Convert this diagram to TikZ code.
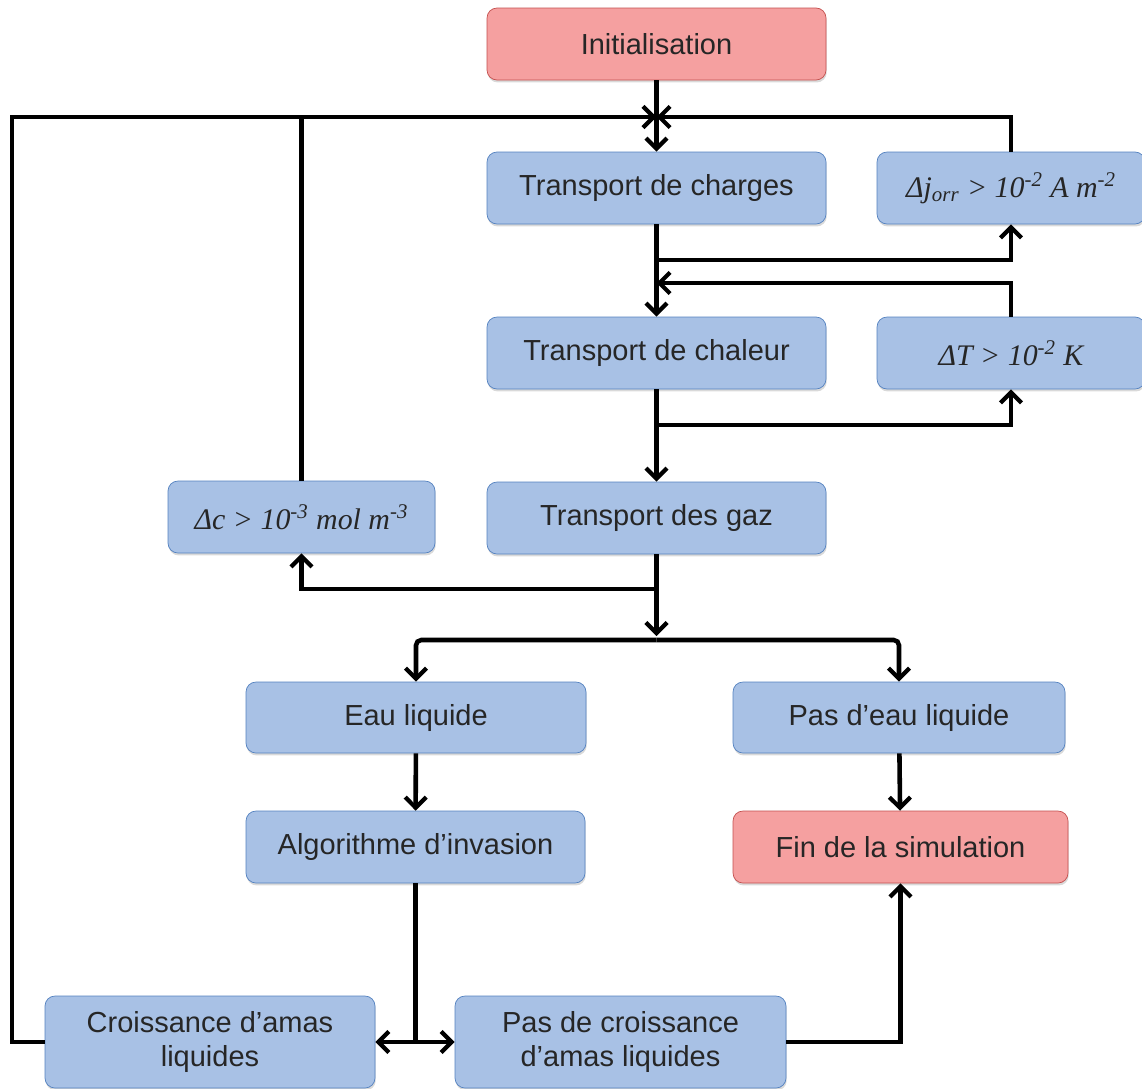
\documentclass[tikz,border=0pt]{standalone}
\usepackage{fontspec}
\setmainfont{Liberation Sans}
\newfontfamily\tmsfont{Liberation Serif}
\usetikzlibrary{arrows.meta,shadows}
\definecolor{boxblue}{RGB}{168,193,229}
\definecolor{edgeblue}{RGB}{84,130,192}
\definecolor{boxpink}{RGB}{245,160,160}
\definecolor{edgered}{RGB}{196,80,78}

\begin{document}
\begin{tikzpicture}[blk/.style={draw=edgeblue,fill=boxblue,rounded corners=0.2cm,minimum width=6.78cm,minimum height=1.44cm,align=center,font=\fontsize{16.5}{19.5}\selectfont,drop shadow={opacity=0.3,shadow xshift=0.4pt,shadow yshift=-1.4pt},text=black!85},endblk/.style={blk,draw=edgered,fill=boxpink},cond/.style={blk,font=\tmsfont\itshape\fontsize{17}{20}\selectfont,minimum width=5.34cm},arr/.style={line width=2.6pt,-{Straight Barb[length=6pt,width=12pt,line width=2.4pt]}},lin/.style={line width=2.6pt}]
\useasboundingbox (0,0) rectangle (22.84,-21.76);
\node[endblk](init) at (13.13,-0.88){Initialisation};
\node[blk](charges) at (13.13,-3.76){Transport de charges};
\node[cond,minimum width=5.36cm](jorr) at (20.22,-3.76){Δj\textsubscript{orr} > 10\textsuperscript{-2} A m\textsuperscript{-2}};
\node[blk](chaleur) at (13.13,-7.06){Transport de chaleur};
\node[cond,minimum width=5.36cm](dT) at (20.22,-7.06){ΔT > 10\textsuperscript{-2} K};
\node[blk](gaz) at (13.13,-10.36){Transport des gaz};
\node[cond](dc) at (6.03,-10.34){Δc > 10\textsuperscript{-3} mol m\textsuperscript{-3}};
\node[blk,minimum width=6.8cm,minimum height=1.42cm](eau) at (8.32,-14.35){Eau liquide};
\node[blk,minimum width=6.64cm,minimum height=1.42cm](paseau) at (17.98,-14.35){Pas d’eau liquide};
\node[blk](algo) at (8.31,-16.94){Algorithme d’invasion};
\node[endblk,minimum width=6.7cm](fin) at (18.01,-16.94){Fin de la simulation};
\node[blk,minimum width=6.6cm,minimum height=1.84cm](crois) at (4.2,-20.84){Croissance d’amas\\liquides};
\node[blk,minimum width=6.62cm,minimum height=1.84cm](pascrois) at (12.41,-20.84){Pas de croissance\\d’amas liquides};
% points de branchement
\coordinate (top) at (13.13,-2.34);
\coordinate (lt) at (0.24,-2.34);
\coordinate (b1) at (13.13,-5.2);
\coordinate (b2) at (13.13,-5.66);
\coordinate (b3) at (13.13,-8.5);
\coordinate (b4) at (13.13,-11.78);
\coordinate (split) at (13.13,-12.72);
\coordinate (b5) at (8.31,-20.84);
\draw[arr](init)--(charges);
\draw[arr](crois.west)-|(lt)--(top);
\draw[lin](dc.north)--(dc.north|-top);
\draw[arr](jorr.north)|-(top);
\draw[arr](charges)--(chaleur);
\draw[arr](b1)-|(jorr.south);
\draw[arr](dT.north)|-(b2);
\draw[arr](chaleur)--(gaz);
\draw[arr](b3)-|(dT.south);
\draw[arr](gaz.south)--(split);
\draw[arr](b4)-|(dc.south);
\draw[arr,rounded corners=3pt]([yshift=-0.08cm]split)-|(eau.north);
\draw[arr,rounded corners=3pt]([yshift=-0.08cm]split)-|(paseau.north);
\draw[arr](eau)--(algo);
\draw[arr](paseau)--(fin);
\draw[lin](algo.south)--(b5);
\draw[arr](b5)--(crois.east);
\draw[arr](b5)--(pascrois.west);
\draw[arr](pascrois.east)-|(fin.south);
\end{tikzpicture}
\end{document}
